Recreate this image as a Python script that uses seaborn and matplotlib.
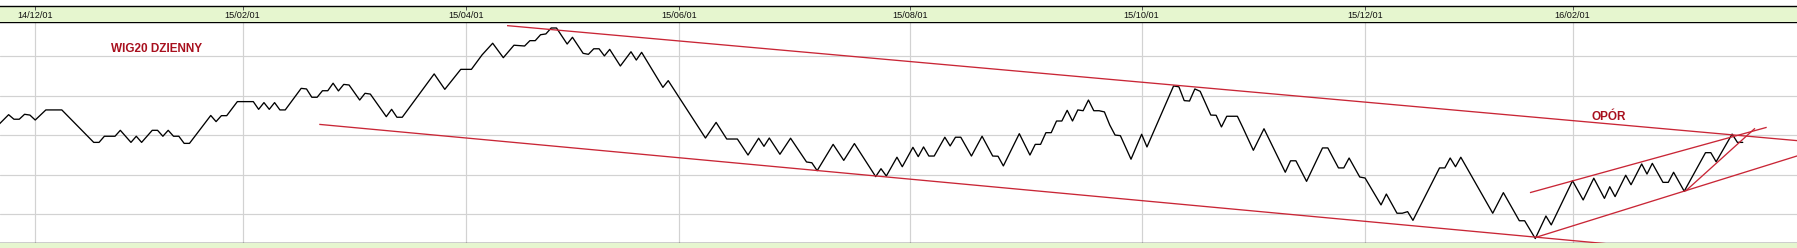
import matplotlib
matplotlib.use("Agg")
import matplotlib.pyplot as plt
import matplotlib.transforms as mtransforms
import numpy as np
import pandas as pd
import seaborn as sns

# ---- data: WIG20 daily (session index from 2014-12-01, index level) ----
sessions = [-7, -5, -4, -3, -2, -1, 0, 2, 5, 11, 12, 13, 15, 16, 18, 19, 20, 22, 23, 24,
            25, 26, 27, 28, 29, 33, 34, 35, 36, 38, 41, 42, 43, 44, 45, 46, 47, 50, 51, 52,
            53, 54, 55, 56, 57, 58, 59, 61, 62, 63, 66, 67, 68, 69, 75, 77, 80, 82, 84, 86,
            88, 90, 92, 93, 94, 95, 96, 97, 98, 100, 101, 103, 104, 105, 106, 107, 108, 110, 112, 113,
            114, 118, 119, 124, 126, 128, 130, 132, 134, 136, 137, 138, 140, 142, 145, 146, 147, 150, 152, 154,
            158, 159, 160, 162, 163, 165, 166, 167, 168, 169, 171, 172, 173, 174, 176, 178, 180, 181, 182, 185,
            187, 188, 189, 190, 191, 192, 193, 194, 195, 196, 197, 198, 199, 200, 201, 202, 203, 204, 206, 208,
            209, 214, 215, 216, 217, 218, 219, 221, 222, 223, 224, 226, 227, 229, 231, 235, 236, 237, 239, 242,
            243, 245, 246, 247, 249, 250, 253, 254, 256, 257, 258, 259, 264, 265, 266, 267, 268, 274, 276, 279,
            280, 282, 284, 285, 289, 291, 293, 295, 296, 297, 299, 300, 302, 303, 304, 306, 307, 308, 310, 314,
            315, 316, 319, 320, 321]
closes = [2250, 2304, 2281, 2281, 2306, 2302, 2277, 2328, 2328, 2164, 2164, 2195, 2195, 2225, 2164, 2195, 2164, 2225, 2225, 2195,
          2225, 2195, 2195, 2159, 2159, 2300, 2269, 2299, 2299, 2370, 2370, 2331, 2365, 2331, 2365, 2328, 2328, 2437, 2434, 2392,
          2392, 2425, 2425, 2463, 2424, 2457, 2454, 2378, 2412, 2408, 2294, 2331, 2291, 2291, 2510, 2432, 2533, 2533, 2606, 2665,
          2592, 2655, 2651, 2678, 2678, 2708, 2712, 2742, 2742, 2661, 2695, 2614, 2609, 2637, 2637, 2601, 2634, 2550, 2622, 2580,
          2619, 2442, 2476, 2269, 2186, 2265, 2181, 2181, 2100, 2185, 2144, 2186, 2104, 2185, 2065, 2061, 2021, 2154, 2073, 2158,
          1991, 2031, 1994, 2089, 2041, 2139, 2092, 2141, 2095, 2095, 2190, 2146, 2190, 2190, 2095, 2195, 2095, 2094, 2045, 2208,
          2100, 2154, 2154, 2213, 2213, 2272, 2272, 2326, 2272, 2328, 2324, 2378, 2324, 2324, 2318, 2252, 2201, 2198, 2079, 2205,
          2141, 2449, 2445, 2375, 2373, 2434, 2422, 2302, 2301, 2242, 2296, 2296, 2240, 2124, 2233, 2013, 2071, 2071, 1967, 2136,
          2136, 2035, 2035, 2085, 1989, 1984, 1848, 1903, 1806, 1806, 1814, 1770, 2035, 2035, 2085, 2041, 2089, 1806, 1910, 1768,
          1768, 1678, 1792, 1747, 1970, 1873, 1983, 1881, 1940, 1890, 1998, 1950, 2055, 2004, 2058, 1962, 1962, 2013, 1917, 2112,
          2112, 2066, 2206, 2164, 2164]

tick_sessions = [0, 39, 81, 121, 164.5, 208, 250, 289]
tick_labels = ["14/12/01", "15/02/01", "15/04/01", "15/06/01", "15/08/01", "15/10/01", "15/12/01", "16/02/01"]
grid_levels = [1800, 2000, 2200, 2400, 2600]

# trend lines drawn by the analyst (session, level)
trend_s0 = [88.7, 53.4, 281.0, 282.1, 310.2]
trend_v0 = [2754, 2255, 1910, 1684, 1917]
trend_s1 = [332.0, 299.8, 325.5, 332.0, 323.3]
trend_v1 = [2171, 1641, 2240, 2102, 2235]

title_text = "WIG20 DZIENNY"
title_pos = (14.3, 2637)
label_text = "OPÓR"
label_pos = (292.6, 2292)

# ---- styling ----
GREEN = "#e6f6cf"
RED = "#c92636"
DARKRED = "#a8101e"
GRID = "#d2d2d2"

sns.set_style("white")
plt.rcParams["font.family"] = ["Liberation Sans", "DejaVu Sans"]

W, H = 1797, 248
fig = plt.figure(figsize=(W / 100, H / 100), dpi=100)
fig.patch.set_facecolor("white")

xlim = (-6.62, 331.2)
ylim = (1657.1, 2772.3)

top_px, hdr_px, bot_px = 6, 22, 242.7
ax = fig.add_axes([0, (H - bot_px) / H, 1, (bot_px - hdr_px) / H])
axh = fig.add_axes([0, (H - hdr_px) / H, 1, (hdr_px - top_px) / H])
axb = fig.add_axes([0, 0, 1, (H - bot_px) / H])

df = pd.DataFrame({"session": sessions, "close": closes})

ax.set_xlim(*xlim)
ax.set_ylim(*ylim)
ax.set_xticks(tick_sessions)
ax.set_yticks(grid_levels)
ax.grid(True, color=GRID, lw=0.85)
ax.set_axisbelow(True)
ax.tick_params(length=0, labelbottom=False, labelleft=False)

sns.lineplot(data=df, x="session", y="close", color="black", lw=0.95, ax=ax,
             estimator=None, sort=False)
ax.set_xlabel("")
ax.set_ylabel("")

for s0, v0, s1, v1 in zip(trend_s0, trend_v0, trend_s1, trend_v1):
    ax.plot([s0, s1], [v0, v1], color=RED, lw=0.95, solid_capstyle="butt", zorder=3)

ax.text(title_pos[0], title_pos[1], title_text, color=DARKRED, fontsize=8.5,
        fontweight="bold", ha="left", va="center")
ax.text(label_pos[0], label_pos[1], label_text, color=DARKRED, fontsize=8.5,
        fontweight="bold", ha="left", va="center")

for side in ["left", "right"]:
    ax.spines[side].set_visible(False)
for side in ["top", "bottom"]:
    ax.spines[side].set_color("black")
    ax.spines[side].set_linewidth(1.0)

# header band with date labels
axh.set_facecolor(GREEN)
axh.set_xlim(*xlim)
axh.set_ylim(0, 1)
axh.set_xticks([])
axh.set_yticks([])
for side in ["left", "right", "bottom"]:
    axh.spines[side].set_visible(False)
axh.spines["top"].set_color("black")
axh.spines["top"].set_linewidth(1.0)
axh.vlines(tick_sessions, 0.78, 1.0, color="#555555", lw=0.7)
trans = mtransforms.blended_transform_factory(axh.transData, axh.transAxes)
for s, lab in zip(tick_sessions, tick_labels):
    axh.text(s, 0.42, lab, transform=trans, ha="center", va="center",
             fontsize=6.6, color="#111111")

# bottom band
axb.set_facecolor(GREEN)
axb.set_xticks([])
axb.set_yticks([])
for side in ["left", "right", "top", "bottom"]:
    axb.spines[side].set_visible(False)

fig.savefig("out.png", dpi=100, facecolor=fig.get_facecolor())
